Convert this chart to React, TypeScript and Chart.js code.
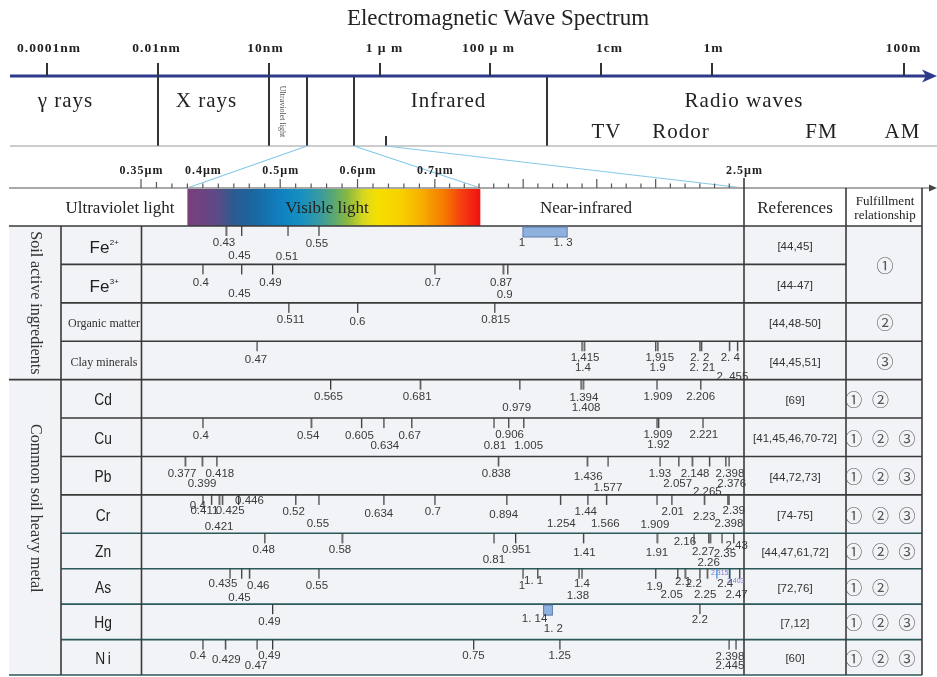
import React, { useEffect, useRef } from 'react';
import { Chart, LinearScale, registerables } from 'chart.js';

// ===================== DATA =====================
const TITLE = 'Electromagnetic Wave Spectrum';
const EM_SCALE_LABELS = ['0.0001nm', '0.01nm', '10nm', '1 µ m', '100 µ m', '1cm', '1m', '100m'];
const EM_BANDS = ['γ rays', 'X rays', 'Infrared', 'Radio waves'];
const EM_UV_LABEL = 'Ultraviolet light';
const RADIO_BANDS = ['TV', 'Rodor', 'FM', 'AM'];

const RULER_LABELS = ['0.35µm', '0.4µm', '0.5µm', '0.6µm', '0.7µm', '2.5µm'];
const VISIBLE_RANGE = [0.38, 0.77];
const NIR_END = 2.5;
const HEADER_BANDS = ['Ultraviolet light', 'Visible light', 'Near-infrared'];
const HEADER_COLUMNS = ['References', 'Fulfillment', 'relationship'];

const GROUP_NAMES = ['Soil active ingredients', 'Common soil heavy metal'];
const GROUP_ROW_COUNTS = [4, 8];
const ROW_NAMES = ['Fe', 'Fe', 'Organic matter', 'Clay minerals', 'Cd', 'Cu', 'Pb', 'Cr', 'Zn', 'As', 'Hg', 'Ni'];
const ROW_SUPERSCRIPTS = ['2+', '3+', '', '', '', '', '', '', '', '', '', ''];
const REFERENCES = ['[44,45]', '[44-47]', '[44,48-50]', '[44,45,51]', '[69]', '[41,45,46,70-72]', '[44,72,73]', '[74-75]', '[44,47,61,72]', '[72,76]', '[7,12]', '[60]'];
// '' = cell merged with the row above
const FULFILLMENT = ['①', '', '②', '③', '①②', '①②③', '①②③', '①②③', '①②③', '①②', '①②③', '①②③'];

// band positions (µm) and their printed labels, one pair per row
const feIIValues = [0.43, 0.45, 0.51, 0.55];
const feIILabels = ['0.43', '0.45', '0.51', '0.55'];
const feIIRange = [1, 1.3];
const feIIRangeLabels = ['1', '1. 3'];

const feIIIValues = [0.4, 0.45, 0.49, 0.7, 0.87, 0.9];
const feIIILabels = ['0.4', '0.45', '0.49', '0.7', '0.87', '0.9'];

const organicValues = [0.511, 0.6, 0.815];
const organicLabels = ['0.511', '0.6', '0.815'];

const clayValues = [0.47, 1.4, 1.415, 1.9, 1.915, 2.2, 2.21, 2.4, 2.455];
const clayLabels = ['0.47', '1.4', '1,415', '1.9', '1,915', '2. 2', '2. 21', '2. 4', '2. 455'];

const cdValues = [0.565, 0.681, 0.979, 1.394, 1.408, 1.909, 2.206];
const cdLabels = ['0.565', '0.681', '0.979', '1.394', '1.408', '1.909', '2.206'];

const cuValues = [0.4, 0.54, 0.605, 0.634, 0.67, 0.81, 0.906, 1.005, 1.909, 1.92, 2.221];
const cuLabels = ['0.4', '0.54', '0.605', '0.634', '0.67', '0.81', '0.906', '1.005', '1.909', '1.92', '2.221'];

const pbValues = [0.377, 0.399, 0.418, 0.838, 1.436, 1.577, 1.93, 2.057, 2.148, 2.265, 2.376, 2.398];
const pbLabels = ['0.377', '0.399', '0.418', '0.838', '1.436', '1.577', '1.93', '2.057', '2.148', '2.265', '2.376', '2.398'];

const crValues = [0.4, 0.411, 0.421, 0.425, 0.446, 0.52, 0.55, 0.634, 0.7, 0.894, 1.254, 1.44, 1.566, 1.909, 2.01, 2.23, 2.39, 2.398];
const crLabels = ['0.4', '0.411', '0.421', '0.425', '0.446', '0.52', '0.55', '0.634', '0.7', '0.894', '1.254', '1.44', '1.566', '1.909', '2.01', '2.23', '2.39', '2.398'];

const znValues = [0.48, 0.58, 0.81, 0.951, 1.41, 1.91, 2.16, 2.26, 2.27, 2.35, 2.43];
const znLabels = ['0.48', '0.58', '0.81', '0.951', '1.41', '1.91', '2.16', '2.26', '2.27', '2.35', '2.43'];

const asValues = [0.435, 0.45, 0.46, 0.55, 1, 1.1, 1.38, 1.4, 1.9, 2.05, 2.1, 2.2, 2.25, 2.4, 2.47];
const asLabels = ['0.435', '0.45', '0.46', '0.55', '1', '1. 1', '1.38', '1.4', '1.9', '2.05', '2.1', '2.2', '2.25', '2.4', '2.47'];
const asMinorValues = [2.315, 2.403];
const asMinorLabels = ['2.315', '2.403'];

const hgValues = [0.49, 2.2];
const hgLabels = ['0.49', '2.2'];
const hgRange = [1.14, 1.2];
const hgRangeLabels = ['1. 14', '1. 2'];

const niValues = [0.4, 0.429, 0.47, 0.49, 0.75, 1.25, 2.398, 2.445];
const niLabels = ['0.4', '0.429', '0.47', '0.49', '0.75', '1.25', '2.398', '2.445'];

// ===================== LAYOUT (label nudges: [dx, dy below row top]) =====================
const feIIPos = [[-2, 17], [-2, 30], [-1, 31], [-2, 18]];
const feIIRangePos = [[-1, 17], [-4, 17]];
const feIIIPos = [[-2, 18], [-2, 29], [-2, 18], [-2, 18], [-2, 18], [-3, 30]];
const organicPos = [[2, 17], [0, 19], [1, 17]];
const clayPos = [[-1, 19], [1, 27], [1, 17], [2, 27], [2, 17], [0, 17], [1, 27], [1, 17], [-5, 36]];
const cdPos = [[-2, 17], [-3, 17], [-3, 28], [3, 18], [3, 28], [1, 17], [0, 17]];
const cuPos = [[-2, 18], [-3, 18], [-2, 18], [1, 28], [-2, 18], [1, 28], [1, 17], [5, 28], [1, 17], [0, 27], [1, 17]];
const pbPos = [[-3, 17], [0, 27], [3, 17], [-2, 17], [1, 20], [0, 31], [0, 17], [-1, 27], [3, 17], [-2, 35], [6, 27], [1, 17]];
const crPos = [[-5, 11], [-7, 16], [0, 32], [8, 16], [11, 6], [-2, 17], [-1, 29], [-5, 19], [-2, 17], [-3, 20], [1, 29], [-2, 17], [-1, 29], [-2, 30], [1, 17], [0, 22], [6, 16], [0, 29]];
const znPos = [[-1, 17], [-2, 17], [0, 27], [1, 17], [1, 20], [0, 20], [-9, 9], [0, 30], [-7, 19], [3, 21], [3, 13]];
const asPos = [[-7, 15], [-2, 29], [9, 17], [-2, 17], [-1, 17], [-4, 12], [-1, 27], [0, 15], [-1, 18], [-6, 26], [-2, 13], [-6, 15], [-2, 26], [-4, 15], [-3, 26]];
const asMinorPos = [[3, 4], [6, 12]];
const hgPos = [[-3, 18], [0, 16]];
const hgRangePos = [[-9, 15], [1, 25]];
const niPos = [[-5, 16], [1, 20], [-1, 26], [-3, 16], [0, 16], [0, 16], [1, 17], [-6, 26]];

const ROW_SERIES = [
  { values: feIIValues, labels: feIILabels, pos: feIIPos },
  { values: feIIIValues, labels: feIIILabels, pos: feIIIPos },
  { values: organicValues, labels: organicLabels, pos: organicPos },
  { values: clayValues, labels: clayLabels, pos: clayPos },
  { values: cdValues, labels: cdLabels, pos: cdPos },
  { values: cuValues, labels: cuLabels, pos: cuPos },
  { values: pbValues, labels: pbLabels, pos: pbPos },
  { values: crValues, labels: crLabels, pos: crPos },
  { values: znValues, labels: znLabels, pos: znPos },
  { values: asValues, labels: asLabels, pos: asPos },
  { values: hgValues, labels: hgLabels, pos: hgPos },
  { values: niValues, labels: niLabels, pos: niPos },
];
const RANGES = [
  { row: 0, range: feIIRange, labels: feIIRangeLabels, pos: feIIRangePos },
  { row: 10, range: hgRange, labels: hgRangeLabels, pos: hgRangePos },
];

// axis calibration of the hand-drawn wavelength axis (value -> relative units)
const KNOTS: Record<string, { v: number[]; u: number[] }> = {
  x: { v: [0.32, 0.75, 0.81, 1.0, 2.5], u: [0, 332.4, 352.8, 381.8, 602.8] },
  y: { v: [0, 8, 12], u: [0, 308, 450] },
};

const SERIF = '"Liberation Serif", "Times New Roman", serif';
const SANS = '"Liberation Sans", Arial, Helvetica, sans-serif';
const CIRCLE_FONT = '"Noto Sans CJK SC", "DejaVu Sans", sans-serif';

const GRADIENT_STOPS: [number, string][] = [
  [0, '#7c3d7c'], [0.1, '#5e4a86'], [0.155, '#2d5a90'], [0.224, '#1b66a0'], [0.317, '#1080c0'],
  [0.386, '#1590c0'], [0.454, '#3a9aa0'], [0.5, '#5aa870'], [0.547, '#8ab840'], [0.602, '#d8d820'],
  [0.65, '#f5e000'], [0.729, '#f8d000'], [0.797, '#f8b000'], [0.876, '#f57a00'], [0.934, '#f54010'], [1, '#ee1010'],
];

// ===================== SCALE =====================
function interp(xs: number[], ys: number[], t: number) {
  const n = xs.length;
  let i = 0;
  if (t <= xs[0]) i = 0;
  else if (t >= xs[n - 1]) i = n - 2;
  else while (i < n - 2 && t > xs[i + 1]) i++;
  const f = (t - xs[i]) / (xs[i + 1] - xs[i]);
  return ys[i] + f * (ys[i + 1] - ys[i]);
}

class PiecewiseScale extends LinearScale {
  static id = 'piecewise';
  static defaults = {};
  getPixelForValue(value: number) {
    const k = KNOTS[(this as any).id];
    const u0 = interp(k.v, k.u, (this as any).min);
    const u1 = interp(k.v, k.u, (this as any).max);
    return (this as any).getPixelForDecimal((interp(k.v, k.u, value) - u0) / (u1 - u0));
  }
  getValueForPixel(pixel: number) {
    const k = KNOTS[(this as any).id];
    const u0 = interp(k.v, k.u, (this as any).min);
    const u1 = interp(k.v, k.u, (this as any).max);
    const u = u0 + (this as any).getDecimalForPixel(pixel) * (u1 - u0);
    return interp(k.u, k.v, u);
  }
}

Chart.register(...registerables, PiecewiseScale as any);

// ===================== DRAW HELPERS =====================
function txt(ctx: CanvasRenderingContext2D, s: string, x: number, y: number, font: string, color: string,
  align: CanvasTextAlign = 'center', baseline: CanvasTextBaseline = 'alphabetic', spacing = 0) {
  ctx.save();
  ctx.font = font;
  ctx.fillStyle = color;
  ctx.textAlign = align;
  ctx.textBaseline = baseline;
  (ctx as any).letterSpacing = spacing + 'px';
  ctx.fillText(s, x + (spacing && align === 'center' ? spacing / 2 : 0), y);
  ctx.restore();
}
function ln(ctx: CanvasRenderingContext2D, x1: number, y1: number, x2: number, y2: number, color: string, w: number) {
  ctx.save();
  ctx.strokeStyle = color;
  ctx.lineWidth = w;
  ctx.beginPath();
  ctx.moveTo(x1, y1);
  ctx.lineTo(x2, y2);
  ctx.stroke();
  ctx.restore();
}
function makeTick(color: string) {
  const c = document.createElement('canvas');
  c.width = 3;
  c.height = 22;
  const g = c.getContext('2d')!;
  g.fillStyle = color;
  g.fillRect(1, 11, 1.3, 10);
  return c;
}

const TABLE_L = 9, GROUP_R = 61, REF_R = 846, TABLE_R = 922, HEADER_TOP = 188;
const EM_AXIS_Y = 76, EM_BOTTOM_Y = 146;
const EM_TICK_X = [47, 158, 269, 380, 490, 601, 712, 904];
const EM_LABEL_X = [48.5, 156, 265, 384, 488, 609, 713, 903];
const EM_DIVIDER_X = [158, 269, 307, 354, 547];
const EM_BAND_X = [65, 206, 448, 743.5];
const RADIO_X = [606, 680.5, 821, 902];

const tablePlugin = {
  id: 'spectrumTable',
  beforeDraw(chart: any) {
    const ctx: CanvasRenderingContext2D = chart.ctx;
    const xs = chart.scales.x, ys = chart.scales.y;
    const px = (v: number) => xs.getPixelForValue(v);
    const py = (v: number) => ys.getPixelForValue(v);
    ctx.save();
    ctx.fillStyle = '#ffffff';
    ctx.fillRect(0, 0, chart.width, chart.height);

    // ---- title & EM spectrum ----
    txt(ctx, TITLE, 498, 25, `23px ${SERIF}`, '#222');
    ln(ctx, 10, EM_AXIS_Y, 926, EM_AXIS_Y, '#2d3a8c', 3);
    ctx.fillStyle = '#2d3a8c';
    ctx.beginPath();
    ctx.moveTo(937, EM_AXIS_Y);
    ctx.lineTo(922, EM_AXIS_Y - 6.5);
    ctx.lineTo(926, EM_AXIS_Y);
    ctx.lineTo(922, EM_AXIS_Y + 6.5);
    ctx.closePath();
    ctx.fill();
    EM_TICK_X.forEach((x) => ln(ctx, x, 63, x, EM_AXIS_Y, '#333', 2));
    EM_SCALE_LABELS.forEach((s, i) => txt(ctx, s, EM_LABEL_X[i], 52, `bold 13.5px ${SERIF}`, '#222', 'center', 'alphabetic', 1));
    EM_DIVIDER_X.forEach((x) => ln(ctx, x, EM_AXIS_Y + 1, x, EM_BOTTOM_Y, '#333', 2));
    ln(ctx, 386, 136, 386, EM_BOTTOM_Y, '#333', 2);
    ln(ctx, 10, EM_BOTTOM_Y, 937, EM_BOTTOM_Y, '#9a9a9a', 1.2);
    EM_BANDS.forEach((s, i) => txt(ctx, s, EM_BAND_X[i], 107, `21px ${SERIF}`, '#222', 'center', 'alphabetic', 1));
    ctx.save();
    ctx.translate(282, 111.5);
    ctx.rotate(Math.PI / 2);
    txt(ctx, EM_UV_LABEL, 0, 0, `8px ${SERIF}`, '#555', 'center', 'middle');
    ctx.restore();
    RADIO_BANDS.forEach((s, i) => txt(ctx, s, RADIO_X[i], 138, `21px ${SERIF}`, '#222', 'center', 'alphabetic', 1));

    // connectors to the zoomed ruler
    const vis0 = px(VISIBLE_RANGE[0]), vis1 = px(VISIBLE_RANGE[1]), nirEnd = px(NIR_END);
    ln(ctx, 307, EM_BOTTOM_Y, vis0, HEADER_TOP, '#86c8e8', 1.2);
    ln(ctx, 354, EM_BOTTOM_Y, vis1, HEADER_TOP, '#86c8e8', 1.2);
    ln(ctx, 386, EM_BOTTOM_Y, nirEnd, HEADER_TOP, '#86c8e8', 1.2);

    // ---- table body ----
    const top = py(0), bottom = py(12);
    ctx.fillStyle = '#f2f3f7';
    ctx.fillRect(TABLE_L, top, TABLE_R - TABLE_L, bottom - top);

    // header band gradient
    const grad = ctx.createLinearGradient(vis0, 0, vis1, 0);
    GRADIENT_STOPS.forEach(([o, c]) => grad.addColorStop(o, c));
    ctx.fillStyle = grad;
    ctx.fillRect(vis0, HEADER_TOP, vis1 - vis0, top - HEADER_TOP);
    txt(ctx, HEADER_BANDS[0], 120, 213, `17px ${SERIF}`, '#222');
    txt(ctx, HEADER_BANDS[1], 327, 213, `17px ${SERIF}`, '#222');
    txt(ctx, HEADER_BANDS[2], 586, 213, `17px ${SERIF}`, '#222');
    txt(ctx, HEADER_COLUMNS[0], 795, 213, `17px ${SERIF}`, '#222');
    txt(ctx, HEADER_COLUMNS[1], 885, 205, `13px ${SERIF}`, '#222');
    txt(ctx, HEADER_COLUMNS[2], 885, 219, `13px ${SERIF}`, '#222');

    // ruler
    ln(ctx, TABLE_L, HEADER_TOP, 929, HEADER_TOP, '#a8a8a8', 2);
    ctx.fillStyle = '#444';
    ctx.beginPath();
    ctx.moveTo(937, HEADER_TOP);
    ctx.lineTo(929, HEADER_TOP - 3.5);
    ctx.lineTo(929, HEADER_TOP + 3.5);
    ctx.closePath();
    ctx.fill();
    const rulerTicks: number[] = [];
    for (let k = 0; k <= 19; k++) rulerTicks.push(px(0.32 + 0.02 * k));
    const p07 = px(0.7);
    for (let k = 1; k <= 21; k++) rulerTicks.push(p07 + ((nirEnd - p07) * k) / 21);
    const tall = [0, 9, 14, 19, 25, 30, 34];
    rulerTicks.forEach((x, i) => {
      if (i === 40) return;
      const h = tall.includes(i) ? 9 : i === 1 ? 6 : 4.5;
      ln(ctx, x, HEADER_TOP, x, HEADER_TOP - h, '#555', 1.2);
    });
    const labelIdx = [0, 4, 9, 14, 19, 40];
    RULER_LABELS.forEach((s, i) => txt(ctx, s, rulerTicks[labelIdx[i]], 174, `bold 12px ${SERIF}`, '#222', 'center', 'alphabetic', 1));

    // horizontal separators
    ln(ctx, TABLE_L, top, TABLE_R, top, '#3a3a3a', 1.6);
    for (let i = 1; i <= 12; i++) {
      const y = py(i);
      const x0 = i === GROUP_ROW_COUNTS[0] || i === 12 ? TABLE_L : GROUP_R;
      const x1 = i < 12 && FULFILLMENT[i] === '' ? REF_R : TABLE_R;
      ln(ctx, x0, y, x1, y, i >= 8 ? '#2b5858' : '#3a3a3a', 1.6);
    }
    // vertical separators
    const chartL = chart.chartArea.left + 0.5;
    ln(ctx, GROUP_R, top, GROUP_R, bottom, '#3a3a3a', 1.6);
    ln(ctx, chartL, top, chartL, bottom, '#3a3a3a', 1.6);
    ln(ctx, nirEnd, 178, nirEnd, bottom, '#3a3a3a', 1.6);
    ln(ctx, REF_R, HEADER_TOP, REF_R, bottom, '#3a3a3a', 1.6);
    ln(ctx, TABLE_R, HEADER_TOP, TABLE_R, bottom, '#3a3a3a', 1.6);

    // group labels (rotated)
    let start = 0;
    const groupDy = [0, -19];
    GROUP_NAMES.forEach((g, gi) => {
      const c = (py(start) + py(start + GROUP_ROW_COUNTS[gi])) / 2 + groupDy[gi];
      ctx.save();
      ctx.translate(35, c);
      ctx.rotate(Math.PI / 2);
      txt(ctx, g, 0, 0, `16px ${SERIF}`, '#333', 'center', 'middle');
      ctx.restore();
      start += GROUP_ROW_COUNTS[gi];
    });

    // row names, references, fulfillment
    ROW_NAMES.forEach((name, r) => {
      const cy = (py(r) + py(r + 1)) / 2 + 2;
      const sup = ROW_SUPERSCRIPTS[r];
      if (sup) {
        ctx.save();
        ctx.font = `17px ${SANS}`;
        const w1 = ctx.measureText(name).width;
        ctx.font = `8px ${SANS}`;
        const w2 = ctx.measureText(sup).width;
        const x0 = 104 - (w1 + w2) / 2;
        ctx.restore();
        txt(ctx, name, x0, cy + 6, `17px ${SANS}`, '#222', 'left', 'alphabetic');
        txt(ctx, sup, x0 + w1 + 0.5, cy - 2, `8px ${SANS}`, '#222', 'left', 'alphabetic');
      } else if (name.length > 2) {
        txt(ctx, name, 104, cy, `12px ${SERIF}`, '#333', 'center', 'middle');
      } else {
        ctx.save();
        ctx.translate(103, cy);
        ctx.scale(0.86, 1);
        txt(ctx, name, 0, 0, `16px ${SANS}`, '#222', 'center', 'middle', name === 'Ni' ? 3 : 0);
        ctx.restore();
      }
      txt(ctx, REFERENCES[r], 795, cy, `11.5px ${SANS}`, '#333', 'center', 'middle');
      const f = FULFILLMENT[r];
      if (f) {
        let span = 1;
        while (r + span < 12 && FULFILLMENT[r + span] === '') span++;
        const fy = (py(r) + py(r + span)) / 2 + 1;
        const chars = Array.from(f);
        if (chars.length === 1) txt(ctx, chars[0], 885, fy, `17px ${CIRCLE_FONT}`, '#555', 'center', 'middle');
        else chars.forEach((ch, k) => txt(ctx, ch, 853.7 + k * 26.7, fy, `17px ${CIRCLE_FONT}`, '#555', 'center', 'middle'));
      }
    });
    ctx.restore();
  },
  beforeDatasetsDraw(chart: any) {
    const ctx: CanvasRenderingContext2D = chart.ctx;
    const xs = chart.scales.x, ys = chart.scales.y;
    RANGES.forEach((r) => {
      const x0 = xs.getPixelForValue(r.range[0]);
      const x1 = xs.getPixelForValue(r.range[1]);
      const y0 = ys.getPixelForValue(r.row);
      ctx.save();
      ctx.fillStyle = '#8fb1de';
      ctx.fillRect(x0, y0 + 1, x1 - x0, 10);
      ctx.strokeStyle = '#5a7ab0';
      ctx.lineWidth = 1;
      ctx.strokeRect(x0, y0 + 1, x1 - x0, 10);
      ctx.restore();
    });
  },
  afterDatasetsDraw(chart: any) {
    const ctx: CanvasRenderingContext2D = chart.ctx;
    const xs = chart.scales.x, ys = chart.scales.y;
    chart.data.datasets.forEach((ds: any, i: number) => {
      const meta = chart.getDatasetMeta(i);
      meta.data.forEach((el: any, j: number) => {
        const [dx, dy] = ds.labelPos[j];
        txt(ctx, ds.pointLabels[j], el.x + dx, el.y + dy, ds.labelFont, ds.labelColor, 'center', 'middle');
      });
    });
    RANGES.forEach((r) => {
      r.range.forEach((v, k) => {
        const [dx, dy] = r.pos[k];
        txt(ctx, r.labels[k], xs.getPixelForValue(v) + dx, ys.getPixelForValue(r.row) + dy, `11.5px ${SANS}`, '#3a3a3a', 'center', 'middle');
      });
    });
  },
};

export default function App() {
  const ref = useRef<HTMLCanvasElement>(null);
  useEffect(() => {
    const canvas = ref.current!;
    const tick = makeTick('#3a3a3a');
    const blueTick = makeTick('#3b8fe0');
    const datasets: any[] = ROW_SERIES.map((s, row) => ({
      label: ROW_NAMES[row] + ROW_SUPERSCRIPTS[row],
      data: s.values.map((v) => ({ x: v, y: row })),
      pointStyle: tick,
      pointRadius: 1,
      pointHoverRadius: 1,
      pointLabels: s.labels,
      labelPos: s.pos,
      labelFont: `11.5px ${SANS}`,
      labelColor: '#3a3a3a',
    }));
    datasets.push({
      label: 'As (minor)',
      data: asMinorValues.map((v) => ({ x: v, y: 9 })),
      pointStyle: blueTick,
      pointRadius: 1,
      pointHoverRadius: 1,
      pointLabels: asMinorLabels,
      labelPos: asMinorPos,
      labelFont: `7px ${SANS}`,
      labelColor: '#7a7ad6',
    });
    const chart = new Chart(canvas, {
      type: 'scatter',
      data: { datasets },
      options: {
        animation: false,
        responsive: false,
        events: [],
        layout: { padding: { left: 141, right: 193, top: 226, bottom: 1 } },
        scales: {
          x: { type: 'piecewise', min: 0.32, max: 2.5, display: false },
          y: { type: 'piecewise', min: 0, max: 12, reverse: true, display: false },
        },
        plugins: { legend: { display: false }, tooltip: { enabled: false }, title: { display: false } },
      },
      plugins: [tablePlugin],
    } as any);
    return () => chart.destroy();
  }, []);
  return (
    <div style={{ position: 'absolute', left: 0, top: 0, width: 937, height: 677 }}>
      <canvas ref={ref} width={937} height={677} style={{ display: 'block' }} />
    </div>
  );
}
